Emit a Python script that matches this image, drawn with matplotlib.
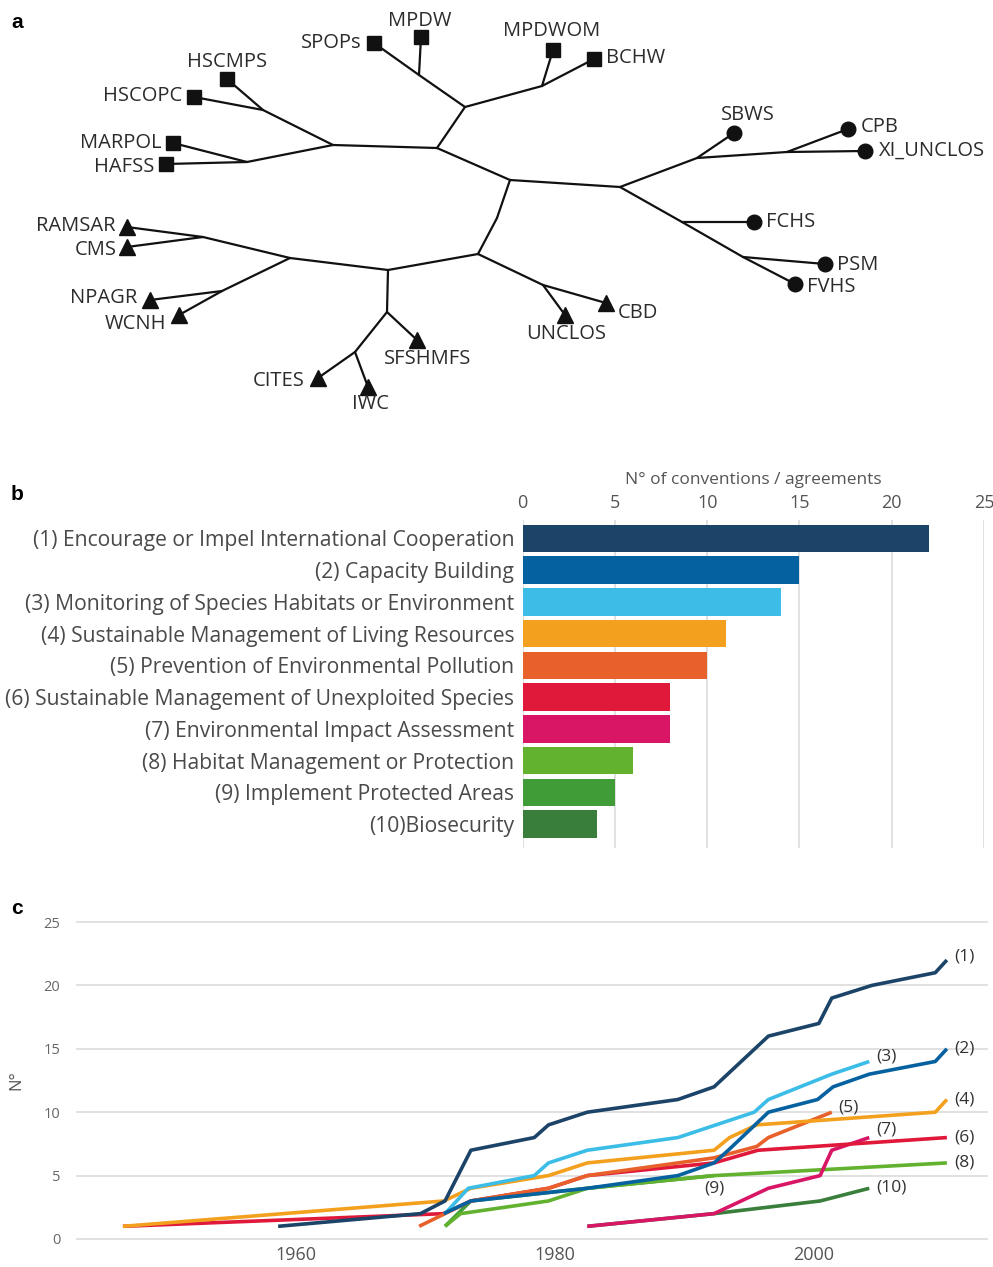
import matplotlib
matplotlib.use("Agg")
import matplotlib.pyplot as plt

plt.rcParams['font.family'] = ['Open Sans', 'DejaVu Sans']

# ---------------- Panel a: tree (layout coordinates, pixel space) ----------------
node_names = ["root", "sq", "sq_top", "mpdw_j", "mb", "hl", "hs", "mh",
              "ci1", "ci2", "ci3", "ci4", "ci5", "tr_b", "tr", "uc",
              "t1", "t2", "rc", "nw", "t3", "cw"]
node_x = [510, 437, 465, 419, 542, 333, 263, 247,
          620, 697, 787, 682, 743, 497, 478, 543,
          388, 290, 203, 222, 387, 355]
node_y = [180, 148, 107, 75, 86, 145, 110, 162,
          187, 158, 152, 222, 257, 218, 254, 285,
          270, 258, 237, 291, 312, 352]

leaf_names = ["SPOPs", "MPDW", "MPDWOM", "BCHW", "HSCMPS", "HSCOPC", "MARPOL", "HAFSS",
              "SBWS", "CPB", "XI_UNCLOS", "FCHS", "PSM", "FVHS",
              "CBD", "UNCLOS", "SFSHMFS", "IWC", "CITES", "WCNH", "NPAGR", "CMS", "RAMSAR"]
leaf_x = [374, 421, 553, 594, 227, 194, 173, 166,
          734, 848, 865, 754, 825, 795,
          606, 565, 417, 368, 318, 179, 150, 127, 127]
leaf_y = [43, 37, 50, 59, 79, 97, 143, 164,
          133, 129, 151, 222, 264, 284,
          303, 315, 340, 387, 378, 315, 300, 247, 227]
leaf_shape = ["s"] * 8 + ["o"] * 6 + ["^"] * 9

edges = [("root", "sq"), ("sq", "sq_top"), ("sq_top", "mpdw_j"), ("mpdw_j", "SPOPs"),
         ("mpdw_j", "MPDW"), ("sq_top", "mb"), ("mb", "MPDWOM"), ("mb", "BCHW"),
         ("sq", "hl"), ("hl", "hs"), ("hs", "HSCMPS"), ("hs", "HSCOPC"),
         ("hl", "mh"), ("mh", "MARPOL"), ("mh", "HAFSS"),
         ("root", "ci1"), ("ci1", "ci2"), ("ci2", "SBWS"), ("ci2", "ci3"),
         ("ci3", "CPB"), ("ci3", "XI_UNCLOS"), ("ci1", "ci4"), ("ci4", "FCHS"),
         ("ci4", "ci5"), ("ci5", "PSM"), ("ci5", "FVHS"),
         ("root", "tr_b"), ("tr_b", "tr"), ("tr", "uc"), ("uc", "UNCLOS"), ("uc", "CBD"),
         ("tr", "t1"), ("t1", "t2"), ("t2", "rc"), ("rc", "RAMSAR"), ("rc", "CMS"),
         ("t2", "nw"), ("nw", "NPAGR"), ("nw", "WCNH"),
         ("t1", "t3"), ("t3", "SFSHMFS"), ("t3", "cw"), ("cw", "CITES"), ("cw", "IWC")]

# label placement: (dx, dy, ha)
label_place = {
    "SPOPs": (-12, 0, "right"), "MPDW": (-1, -16, "center"), "MPDWOM": (-1, -19, "center"),
    "BCHW": (12, -1, "left"), "HSCMPS": (0, -17, "center"), "HSCOPC": (-12, -1, "right"),
    "MARPOL": (-12, 0, "right"), "HAFSS": (-12, 3, "right"),
    "SBWS": (14, -18, "center"), "CPB": (13, -2, "left"), "XI_UNCLOS": (14, 0, "left"),
    "FCHS": (12, 0, "left"), "PSM": (12, 1, "left"), "FVHS": (12, 3, "left"),
    "CBD": (12, 10, "left"), "UNCLOS": (1, 19, "center"), "SFSHMFS": (11, 19, "center"),
    "IWC": (2, 17, "center"), "CITES": (-13, 3, "right"), "WCNH": (-13, 9, "right"),
    "NPAGR": (-13, -2, "right"), "CMS": (-10, 3, "right"), "RAMSAR": (-12, -1, "right"),
}

# ---------------- Panel b data ----------------
categories = ["(1) Encourage or Impel International Cooperation",
              "(2) Capacity Building",
              "(3) Monitoring of Species Habitats or Environment",
              "(4) Sustainable Management of Living Resources",
              "(5) Prevention of Environmental Pollution",
              "(6) Sustainable Management of Unexploited Species",
              "(7) Environmental Impact Assessment",
              "(8) Habitat Management or Protection",
              "(9) Implement Protected Areas",
              "(10)Biosecurity"]
counts = [22, 15, 14, 11, 10, 8, 8, 6, 5, 4]
colors = ["#1c4468", "#0561a0", "#3bbde8", "#f4a01f", "#e8602a",
          "#e0193b", "#d91566", "#62b22f", "#409c36", "#3a7e3c"]

# ---------------- Panel c data ----------------
s1_x = [1958.6, 1969.6, 1971.5, 1973.5, 1978.4, 1979.5, 1982.5, 1989.5, 1992.3, 1996.5, 2000.4, 2001.4, 2004.5, 2009.4, 2010.3]
s1_y = [1, 2, 3, 7, 8, 9, 10, 11, 12, 16, 17, 19, 20, 21, 22]
s2_x = [1971.4, 1973.5, 1982.5, 1989.5, 1992.3, 1993.4, 1996.5, 2000.3, 2001.5, 2004.3, 2009.4, 2010.3]
s2_y = [2, 3, 4, 5, 6, 7, 10, 11, 12, 13, 14, 15]
s3_x = [1971.5, 1973.3, 1978.4, 1979.5, 1982.5, 1989.5, 1995.4, 1996.5, 2001.4, 2004.3]
s3_y = [2, 4, 5, 6, 7, 8, 10, 11, 13, 14]
s4_x = [1946.6, 1971.4, 1973.5, 1979.5, 1982.5, 1992.3, 1993.5, 1995.6, 2009.4, 2010.3]
s4_y = [1, 3, 4, 5, 6, 7, 8, 9, 10, 11]
s5_x = [1969.5, 1971.5, 1973.5, 1979.5, 1982.5, 1992.3, 1995.6, 1996.5, 2001.4]
s5_y = [1, 2, 3, 4, 5, 6.4, 7.3, 8, 10]
s6_x = [1946.6, 1971.4, 1973.5, 1979.5, 1982.5, 1992.3, 1995.7, 2010.3]
s6_y = [1, 2, 3, 4, 5, 6, 7, 8]
s7_x = [1982.5, 1992.3, 1996.5, 2000.5, 2001.4, 2004.3]
s7_y = [1, 2, 4, 5, 7, 8]
s8_x = [1971.5, 1972.7, 1979.5, 1982.5, 1992.3, 2010.3]
s8_y = [1, 2, 3, 4, 5, 6]
s9_x = [1971.5, 1972.5, 1973.5, 1982.5, 1992.3]
s9_y = [1, 2, 3, 4, 5]
s10_x = [1982.5, 1992.3, 2000.5, 2004.3]
s10_y = [1, 2, 3, 4]
series_labels = ["(1)", "(2)", "(3)", "(4)", "(5)", "(6)", "(7)", "(8)", "(9)", "(10)"]

series = [(s1_x, s1_y), (s2_x, s2_y), (s3_x, s3_y), (s4_x, s4_y), (s5_x, s5_y),
          (s6_x, s6_y), (s7_x, s7_y), (s8_x, s8_y), (s9_x, s9_y), (s10_x, s10_y)]
# label offsets from series end (years, value), ha
lab_off = [(0.6, 0.25, "left"), (0.6, 0.05, "left"), (0.5, 0.4, "left"), (0.6, 0.0, "left"),
           (0.5, 0.4, "left"), (0.6, 0.0, "left"), (0.5, 0.6, "left"), (0.6, 0.0, "left"),
           (0.0, -1.05, "center"), (0.5, 0.05, "left")]

W, H = 993, 1267
fig = plt.figure(figsize=(W / 100, H / 100), dpi=100)

# ---- panel a ----
axa = fig.add_axes([0, 1 - 430 / H, 1, 430 / H])
axa.set_xlim(0, W)
axa.set_ylim(430, 0)
axa.axis("off")
pos = {n: (x, y) for n, x, y in zip(node_names, node_x, node_y)}
pos.update({n: (x, y) for n, x, y in zip(leaf_names, leaf_x, leaf_y)})
for a, b in edges:
    axa.plot([pos[a][0], pos[b][0]], [pos[a][1], pos[b][1]], color="#111111",
             lw=1.6, solid_capstyle="round", zorder=1)
msize = {"s": 9.5, "o": 10.5, "^": 11.5}
for n, x, y, m in zip(leaf_names, leaf_x, leaf_y, leaf_shape):
    axa.plot([x], [y], marker=m, ms=msize[m], color="#111111", mec="#111111", zorder=2,
             linestyle="none")
    dx, dy, ha = label_place[n]
    axa.text(x + dx, y + dy, n, ha=ha, va="center", fontsize=14.5, color="#2b2b2b")
fig.text(17 / W, 1 - 22 / H, "a", fontsize=15, fontweight="bold", ha="center", va="center",
         family=["Liberation Sans", "DejaVu Sans"])

# ---- panel b ----
axb = fig.add_axes([522.7 / W, 1 - 848 / H, (984 - 522.7) / W, (848 - 520) / H])
ypos = list(range(len(categories)))
axb.barh(ypos, counts, height=0.87, color=colors, zorder=2)
axb.set_xlim(0, 25)
axb.set_ylim(9.75, -0.58)
axb.set_xticks([0, 5, 10, 15, 20, 25])
axb.xaxis.tick_top()
axb.xaxis.set_label_position("top")
axb.set_xlabel("N° of conventions / agreements", fontsize=12.5, color="#555555", labelpad=7)
axb.set_yticks(ypos)
axb.set_yticklabels(categories, fontsize=15.2, color="#4a4a4a")
axb.tick_params(axis="y", length=0, pad=6)
axb.tick_params(axis="x", length=0, pad=6, labelsize=13, labelcolor="#555555")
axb.grid(axis="x", color="#d9d9d9", lw=1.1, zorder=0)
for s in axb.spines.values():
    s.set_visible(False)
fig.text(17 / W, 1 - 495 / H, "b", fontsize=15, fontweight="bold", ha="center", va="center",
         family=["Liberation Sans", "DejaVu Sans"])

# ---- panel c ----
axc = fig.add_axes([77 / W, 1 - 1239 / H, (987 - 77) / W, (1239 - 922) / H])
axc.set_xlim(1943.05, 2013.4)
axc.set_ylim(0, 25)
order = [9, 8, 7, 6, 5, 4, 3, 2, 1, 0]
for i in order:
    xs, ys = series[i]
    axc.plot(xs, ys, color=colors[i], lw=2.6, solid_capstyle="butt", zorder=3 + (9 - i) * 0.01,
             clip_on=False)
for i, (xs, ys) in enumerate(series):
    dx, dy, ha = lab_off[i]
    axc.text(xs[-1] + dx, ys[-1] + dy, series_labels[i], fontsize=12.5, color="#333333",
             ha=ha, va="center")
axc.set_yticks([0, 5, 10, 15, 20, 25])
axc.set_xticks([1960, 1980, 2000])
axc.tick_params(axis="y", length=0, pad=12, labelsize=10.5, labelcolor="#666666")
axc.tick_params(axis="x", length=0, pad=5, labelsize=13, labelcolor="#555555")
axc.grid(axis="y", color="#dcdcdc", lw=1.2, zorder=0, clip_on=False)
for s in axc.spines.values():
    s.set_visible(False)
axc.set_ylabel("N°", fontsize=12, color="#555555", labelpad=14)
fig.text(17 / W, 1 - 908 / H, "c", fontsize=15, fontweight="bold", ha="center", va="center",
         family=["Liberation Sans", "DejaVu Sans"])

fig.savefig("out.png", dpi=100)
